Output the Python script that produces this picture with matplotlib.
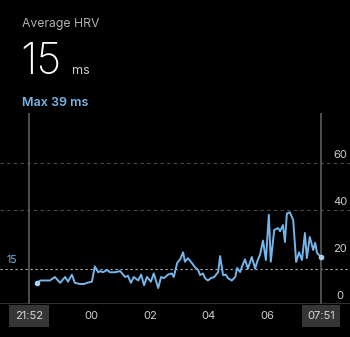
import matplotlib
matplotlib.use("Agg")
import matplotlib.pyplot as plt

plt.rcParams['font.family'] = ['Inter', 'DejaVu Sans']

# overnight HRV samples (clock time, ms)
times = ["22:08", "22:15", "22:25", "22:35", "22:45", "22:56", "23:06", "23:12",
         "23:20", "23:26", "23:37", "23:45", "23:51", "00:01", "00:07", "00:14",
         "00:18", "00:24", "00:32", "00:38", "00:48", "00:59", "01:05", "01:09",
         "01:15", "01:21", "01:27", "01:36", "01:42", "01:48", "01:54", "02:02",
         "02:08", "02:17", "02:23", "02:29", "02:37", "02:45", "02:49", "02:56",
         "03:02", "03:08", "03:12", "03:18", "03:26", "03:33", "03:39", "03:43",
         "03:49", "03:53", "03:59", "04:05", "04:12", "04:20", "04:24", "04:30",
         "04:36", "04:40", "04:48", "04:55", "04:59", "05:05", "05:11", "05:15",
         "05:21", "05:29", "05:36", "05:40", "05:46", "05:52", "05:58", "06:04",
         "06:08", "06:15", "06:23", "06:27", "06:33", "06:37", "06:41", "06:47",
         "06:54", "07:00", "07:06", "07:12", "07:18", "07:22", "07:28", "07:35",
         "07:39", "07:43", "07:51"]
hrv = [9, 10, 10, 10, 11.5, 9, 11.5, 9.5,
       12.5, 9, 8.5, 8.5, 9, 9.5, 16, 13.5,
       14, 13.5, 14.5, 13.5, 13.5, 14, 12.5, 11.5,
       12, 9, 11.5, 10, 12.5, 8, 11.5, 9.5,
       13, 6.8, 11.5, 11, 12.5, 13, 11.5, 17.5,
       19, 22, 18, 19.5, 17.5, 15.5, 14.5, 12.3,
       13, 11, 10, 11, 11.5, 13.6, 20.4, 12.3,
       12.5, 11, 10, 11.5, 15.3, 13.6, 17, 19,
       15, 20, 15, 18, 21, 27, 18.7, 38,
       18, 31.5, 32.3, 31, 33.6, 26.4, 38.5, 39,
       35.7, 17.9, 22, 18.7, 30.2, 19.5, 28.5, 23,
       26, 21.7, 20]

start_time, end_time = "21:52", "07:51"
avg_hrv = 15
max_hrv = 39
grid_levels = [40, 60]
ytick_values = [0, 20, 40, 60]
xtick_labels = ["00", "02", "04", "06"]

BLUE = "#74b6ea"
BG = "#000000"


def minutes(t):
    h, m = map(int, t.split(":"))
    total = h * 60 + m
    if total < 12 * 60:
        total += 1440
    return total - minutes_ref


minutes_ref = 0
minutes_ref = minutes(start_time)
xs = [minutes(t) for t in times]
x_end = minutes(end_time)

fig = plt.figure(figsize=(3.5, 3.37), dpi=100, facecolor=BG)
ax = fig.add_axes([0, 33 / 337, 1, 191 / 337])
ax.set_facecolor(BG)
for s in ax.spines.values():
    s.set_visible(False)
ax.set_xticks([])
ax.set_yticks([])

# 21:52 sits 29 px from the left edge, 07:51 at 321 px
px_per_min = 292 / x_end
pad = 29 / px_per_min
ax.set_xlim(-pad, -pad + 350 / px_per_min)
ax.set_ylim(0, 191 / 2.35)

for g in grid_levels:
    ax.axhline(g, color="#4a4a4a", lw=0.8, ls=(0, (3, 3)))
ax.axhline(avg_hrv, color="#a8b4bf", lw=0.8, ls=(0, (2, 2.5)))
ax.axhline(0, color="#3c3c3c", lw=1.2)

ax.axvline(0, color="#555555", lw=1.3)
ax.axvline(x_end, color="#555555", lw=1.3)

ax.plot(xs, hrv, color=BLUE, lw=1.4, solid_joinstyle="round", zorder=3)
ax.plot([xs[0], xs[-1]], [hrv[0], hrv[-1]], "o", color="#a9d2f3", ms=3, zorder=4)

# y labels sit above their level on the right
xr = -pad + 340 / px_per_min
for v in ytick_values:
    ax.annotate(str(v), (xr, v), xytext=(0, 2.5), textcoords="offset points",
                ha="center", va="bottom", color="#cfcfcf", fontsize=8)
ax.annotate(str(avg_hrv), (-pad + 12 / px_per_min, avg_hrv), xytext=(0, 2.5),
            textcoords="offset points", ha="center", va="bottom",
            color=BLUE, fontsize=7.5)

# hour labels below the baseline
for lab in xtick_labels:
    xv = minutes(lab + ":00")
    ax.annotate(lab, (xv, 0), xytext=(0, -8.6), textcoords="offset points",
                ha="center", va="center", color="#d0d0d0", fontsize=8,
                annotation_clip=False)
for lab, xv in [(start_time, 0), (end_time, x_end)]:
    ax.annotate(lab, (xv, 0), xytext=(0, -8.6), textcoords="offset points",
                ha="center", va="center", color="#d8d8d8", fontsize=8,
                annotation_clip=False,
                bbox=dict(boxstyle="square,pad=0.5", fc="#363636", ec="none"))

# header
fig.text(22 / 350, 1 - 27 / 337, "Average HRV", color="#b0b0b0", fontsize=8.8,
         ha="left", va="baseline")
fig.text(20 / 350, 1 - 74 / 337, str(avg_hrv), color="white", fontsize=31,
         fontweight="light", ha="left", va="baseline")
fig.text(72 / 350, 1 - 74 / 337, "ms", color="#cfcfcf", fontsize=9,
         ha="left", va="baseline")
fig.text(22 / 350, 1 - 106 / 337, f"Max {max_hrv} ms", color=BLUE, fontsize=9,
         fontweight="semibold", ha="left", va="baseline")

fig.savefig("out.png", dpi=100, facecolor=BG)
